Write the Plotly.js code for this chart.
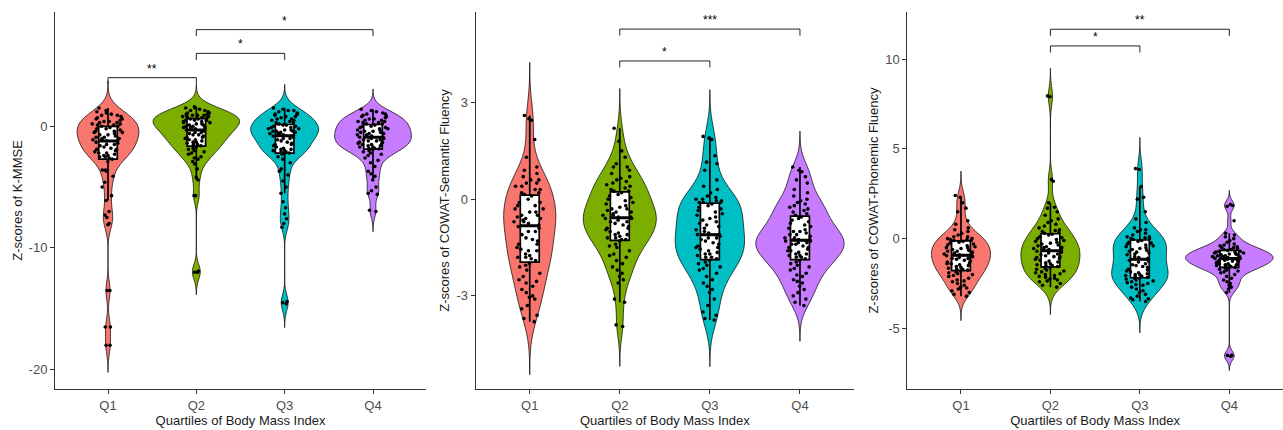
<!DOCTYPE html>
<html>
<head>
<meta charset="utf-8">
<script src="https://cdn.plot.ly/plotly-3.0.1.min.js"></script>
<style>html,body{margin:0;padding:0;background:#fff;}#chart{width:1283px;height:430px;}</style>
</head>
<body>
<div id="chart"></div>
<script>
// ---------- categories & colours ----------
const categories = ['Q1', 'Q2', 'Q3', 'Q4'];
const groupColors = ['#F8766D', '#7CAE00', '#00BFC4', '#C77CFF'];

// ---------- Panel 1: Z-scores of K-MMSE ----------
const kmmse_Q1 = [1.5,1.3,1.2,1.1,1.0,0.9,0.9,0.8,0.7,0.6,0.6,0.5,0.4,0.4,0.3,0.3,0.2,0.2,0.1,0.1,
  0.0,0.0,-0.1,-0.2,-0.2,-0.3,-0.4,-0.4,-0.5,-0.5,-0.6,-0.7,-0.7,-0.8,-0.9,-0.9,-1.0,-1.0,-1.1,-1.1,-1.2,-1.2,
  -1.3,-1.4,-1.5,-1.5,-1.6,-1.7,-1.8,-1.9,-1.9,-2.0,-2.1,-2.2,-2.2,-2.3,-2.4,-2.4,-2.5,-2.5,-2.6,-2.7,
  -2.9,-3.6,-3.6,-3.7,-4.1,-4.6,-5.0,-5.7,-6.1,-7.0,-7.3,-7.5,-8.0,-8.1,-13.5,-13.5,-16.5,-16.5,-18.0,-18.0];
const kmmse_Q2 = [1.6,1.5,1.5,1.4,1.3,1.3,1.2,1.1,1.1,1.0,1.0,0.9,0.9,0.9,0.8,0.8,0.8,0.7,0.7,0.7,
  0.6,0.6,0.5,0.5,0.5,0.4,0.4,0.3,0.3,0.2,0.2,0.1,0.1,0.0,0.0,-0.1,-0.1,-0.1,-0.2,-0.2,
  -0.3,-0.3,-0.4,-0.5,-0.5,-0.6,-0.7,-0.7,-0.8,-0.9,-0.9,-1.0,-1.1,-1.1,-1.2,-1.3,-1.3,-1.4,-1.5,-1.5,
  -1.6,-1.7,-1.8,-1.9,-2.0,-2.1,-2.2,-2.3,-2.5,-2.6,-2.7,-2.9,-3.1,-3.5,-4.2,-4.4,-5.7,-5.7,-12.0,-12.0,-11.9];
const kmmse_Q3 = [1.5,1.4,1.3,1.3,1.2,1.1,1.0,1.0,0.9,0.8,0.8,0.7,0.6,0.6,0.5,0.5,0.4,0.3,0.3,0.2,
  0.1,0.1,0.0,0.0,-0.1,-0.1,-0.2,-0.2,-0.3,-0.3,-0.4,-0.4,-0.4,-0.5,-0.5,-0.6,-0.6,-0.7,-0.7,-0.75,
  -0.8,-0.9,-1.0,-1.0,-1.1,-1.2,-1.3,-1.4,-1.5,-1.5,-1.6,-1.7,-1.8,-1.9,-1.9,-2.0,-2.0,-2.1,-2.1,-2.2,-2.2,-2.3,
  -2.5,-2.7,-3.0,-3.5,-3.7,-4.0,-4.5,-5.0,-5.5,-6.2,-6.7,-7.2,-7.6,-8.0,-8.3,-14.4,-14.5,-14.6];
const kmmse_Q4 = [1.4,1.3,1.2,1.1,1.0,1.0,0.9,0.8,0.8,0.7,0.6,0.6,0.5,0.5,0.4,0.4,0.3,0.3,0.2,0.2,
  0.1,0.0,0.0,-0.1,-0.1,-0.2,-0.2,-0.3,-0.3,-0.4,-0.4,-0.5,-0.5,-0.6,-0.6,-0.7,-0.7,-0.8,-0.8,-0.9,
  -0.9,-1.0,-1.0,-1.1,-1.1,-1.2,-1.2,-1.3,-1.3,-1.4,-1.4,-1.5,-1.5,-1.6,-1.6,-1.7,-1.7,-1.8,-1.8,-1.85,
  -1.9,-2.0,-2.1,-2.2,-2.3,-2.4,-2.6,-2.8,-3.0,-3.3,-3.7,-3.9,-4.1,-4.4,-5.0,-5.3,-5.5,-5.6,-6.9,-7.0];

// ---------- Panel 2: Z-scores of COWAT-Semantic Fluency ----------
const semantic_Q1 = [2.6,2.5,2.45,1.85,1.3,1.0,0.9,0.8,0.7,0.6,0.6,0.5,0.5,0.4,0.4,0.3,0.3,0.2,0.2,0.15,
  0.1,0.0,-0.1,-0.1,-0.2,-0.2,-0.3,-0.3,-0.4,-0.4,-0.5,-0.5,-0.55,-0.6,-0.6,-0.65,-0.7,-0.7,-0.75,-0.8,
  -0.85,-0.9,-1.0,-1.0,-1.1,-1.2,-1.25,-1.3,-1.4,-1.4,-1.5,-1.55,-1.6,-1.6,-1.7,-1.75,-1.8,-1.8,-1.85,-1.9,
  -2.0,-2.05,-2.1,-2.2,-2.3,-2.4,-2.5,-2.55,-2.6,-2.7,-2.8,-2.9,-3.0,-3.05,-3.1,-3.3,-3.4,-3.6,-3.7,-3.8];
const semantic_Q2 = [2.2,1.8,1.5,1.3,1.1,1.0,1.0,0.9,0.8,0.7,0.65,0.6,0.55,0.5,0.45,0.4,0.35,0.3,0.25,0.25,
  0.2,0.15,0.1,0.05,0.0,-0.05,-0.1,-0.15,-0.2,-0.25,-0.3,-0.3,-0.35,-0.4,-0.4,-0.45,-0.5,-0.5,-0.55,-0.55,
  -0.6,-0.6,-0.65,-0.7,-0.7,-0.75,-0.8,-0.85,-0.9,-0.9,-0.95,-1.0,-1.05,-1.1,-1.1,-1.15,-1.2,-1.2,-1.25,-1.25,
  -1.3,-1.4,-1.45,-1.5,-1.6,-1.7,-1.75,-1.8,-1.9,-2.0,-2.1,-2.2,-2.3,-2.4,-2.5,-2.6,-3.1,-3.2,-3.9,-3.95];
const semantic_Q3 = [1.95,1.9,1.85,1.35,1.15,1.1,0.9,0.6,0.4,0.3,0.2,0.1,0.05,0.0,0.0,-0.05,-0.05,-0.1,-0.1,-0.1,
  -0.15,-0.2,-0.25,-0.3,-0.35,-0.4,-0.45,-0.5,-0.55,-0.6,-0.65,-0.7,-0.75,-0.8,-0.85,-0.9,-0.95,-1.0,-1.05,-1.1,
  -1.1,-1.15,-1.2,-1.2,-1.25,-1.3,-1.35,-1.4,-1.45,-1.5,-1.5,-1.55,-1.6,-1.65,-1.7,-1.7,-1.75,-1.8,-1.8,-1.85,
  -1.9,-1.95,-2.0,-2.05,-2.1,-2.15,-2.2,-2.3,-2.4,-2.5,-2.6,-2.7,-2.8,-2.9,-3.1,-3.3,-3.5,-3.6,-3.7,-3.75];
const semantic_Q4 = [1.0,0.9,0.85,0.7,0.6,0.5,0.3,0.2,0.1,0.0,-0.05,-0.1,-0.15,-0.2,-0.25,-0.3,-0.35,-0.4,-0.45,-0.5,
  -0.55,-0.6,-0.65,-0.7,-0.75,-0.8,-0.85,-0.9,-0.95,-1.0,-1.0,-1.05,-1.1,-1.1,-1.15,-1.2,-1.2,-1.25,-1.25,-1.25,
  -1.3,-1.3,-1.35,-1.35,-1.4,-1.4,-1.45,-1.5,-1.5,-1.55,-1.6,-1.6,-1.65,-1.7,-1.7,-1.75,-1.75,-1.8,-1.8,-1.85,
  -1.9,-1.95,-2.0,-2.05,-2.1,-2.15,-2.2,-2.3,-2.35,-2.4,-2.5,-2.55,-2.6,-2.7,-2.8,-2.9,-3.0,-3.1,-3.2,-3.3];

// ---------- Panel 3: Z-scores of COWAT-Phonemic Fluency ----------
const phonemic_Q1 = [2.4,2.3,2.0,1.7,1.5,1.0,0.8,0.6,0.5,0.4,0.3,0.2,0.1,0.1,0.0,0.0,-0.05,-0.05,-0.1,-0.1,
  -0.15,-0.2,-0.25,-0.3,-0.35,-0.4,-0.45,-0.5,-0.5,-0.55,-0.6,-0.65,-0.7,-0.7,-0.75,-0.8,-0.85,-0.85,-0.9,-0.9,
  -0.95,-1.0,-1.05,-1.1,-1.1,-1.15,-1.2,-1.25,-1.3,-1.35,-1.4,-1.4,-1.45,-1.5,-1.55,-1.6,-1.65,-1.7,-1.7,-1.75,
  -1.8,-1.85,-1.9,-1.95,-2.0,-2.05,-2.1,-2.2,-2.3,-2.35,-2.4,-2.5,-2.6,-2.7,-2.75,-2.8,-2.9,-3.0,-3.1,-3.2];
const phonemic_Q2 = [7.95,7.9,3.3,3.2,2.0,1.75,1.7,1.5,1.3,1.1,1.0,0.9,0.8,0.7,0.6,0.5,0.45,0.4,0.35,0.3,
  0.25,0.2,0.1,0.05,0.0,-0.05,-0.1,-0.15,-0.2,-0.25,-0.3,-0.35,-0.4,-0.45,-0.5,-0.5,-0.55,-0.6,-0.6,-0.65,
  -0.7,-0.75,-0.8,-0.85,-0.9,-0.95,-1.0,-1.0,-1.05,-1.1,-1.15,-1.2,-1.25,-1.3,-1.35,-1.4,-1.45,-1.5,-1.5,-1.55,
  -1.6,-1.65,-1.7,-1.75,-1.8,-1.85,-1.9,-1.95,-2.0,-2.05,-2.1,-2.15,-2.2,-2.25,-2.3,-2.35,-2.4,-2.5,-2.6,-2.7];
const phonemic_Q3 = [3.9,3.85,2.9,2.3,2.2,1.5,1.1,0.9,0.6,0.5,0.5,0.4,0.3,0.2,0.1,0.1,0.05,0.0,0.0,-0.05,
  -0.1,-0.15,-0.2,-0.25,-0.3,-0.35,-0.4,-0.45,-0.5,-0.55,-0.6,-0.65,-0.7,-0.75,-0.8,-0.85,-0.9,-1.0,-1.05,-1.1,
  -1.2,-1.25,-1.3,-1.4,-1.45,-1.5,-1.55,-1.6,-1.7,-1.75,-1.8,-1.85,-1.9,-1.95,-2.0,-2.0,-2.05,-2.1,-2.1,-2.15,
  -2.2,-2.2,-2.25,-2.3,-2.35,-2.4,-2.45,-2.5,-2.55,-2.6,-2.7,-2.8,-2.9,-3.0,-3.1,-3.2,-3.3,-3.35,-3.4,-3.5];
const phonemic_Q4 = [1.9,1.85,1.8,1.0,0.3,0.2,0.1,0.0,-0.1,-0.2,-0.3,-0.35,-0.4,-0.45,-0.5,-0.5,-0.55,-0.6,-0.6,-0.65,
  -0.7,-0.7,-0.75,-0.75,-0.8,-0.8,-0.85,-0.85,-0.9,-0.9,-0.95,-0.95,-1.0,-1.0,-1.0,-1.05,-1.05,-1.1,-1.1,-1.1,
  -1.15,-1.15,-1.2,-1.2,-1.25,-1.25,-1.3,-1.3,-1.35,-1.4,-1.4,-1.45,-1.45,-1.5,-1.5,-1.55,-1.55,-1.6,-1.6,-1.65,
  -1.7,-1.75,-1.8,-1.85,-1.9,-2.0,-2.1,-2.2,-2.3,-2.4,-2.5,-2.6,-2.7,-2.8,-3.0,-6.5,-6.5,-6.55];

// ---------- significance brackets ----------
const sig1_from = ['Q1', 'Q2', 'Q2'];
const sig1_to = ['Q2', 'Q3', 'Q4'];
const sig1_y = [4.0, 6.0, 7.95];
const sig1_label = ['**', '*', '*'];

const sig2_from = ['Q2', 'Q2'];
const sig2_to = ['Q3', 'Q4'];
const sig2_y = [4.29, 5.28];
const sig2_label = ['*', '***'];

const sig3_from = ['Q2', 'Q2'];
const sig3_to = ['Q3', 'Q4'];
const sig3_y = [10.73, 11.66];
const sig3_label = ['*', '**'];

// ---------- axis titles / ranges ----------
const xTitle = 'Quartiles of Body Mass Index';
const yTitles = ['Z-scores of K-MMSE', 'Z-scores of COWAT-Semantic Fluency', 'Z-scores of COWAT-Phonemic Fluency'];
const yRanges = [[-21.6, 9.4], [-5.89, 5.81], [-8.37, 12.62]];
const yTicks = [[-20, -10, 0], [-3, 0, 3], [-5, 0, 5, 10]];

// ---------- style: maximum violin width of each group (category units) ----------
const violinWidths = [[0.70, 0.98, 0.77, 0.87], [0.58, 0.81, 0.77, 0.98], [0.66, 0.66, 0.63, 0.98]];

const panels = [
  {groups: [kmmse_Q1, kmmse_Q2, kmmse_Q3, kmmse_Q4], sig: [sig1_from, sig1_to, sig1_y, sig1_label]},
  {groups: [semantic_Q1, semantic_Q2, semantic_Q3, semantic_Q4], sig: [sig2_from, sig2_to, sig2_y, sig2_label]},
  {groups: [phonemic_Q1, phonemic_Q2, phonemic_Q3, phonemic_Q4], sig: [sig3_from, sig3_to, sig3_y, sig3_label]}
];

// ggplot-like bandwidth (bw.nrd0) and linear-interpolated quantiles
function quantile(sorted, p) {
  const h = (sorted.length - 1) * p, lo = Math.floor(h), hi = Math.ceil(h);
  return sorted[lo] + (sorted[hi] - sorted[lo]) * (h - lo);
}
function nrd0(a) {
  const s = [...a].sort((x, y) => x - y), n = s.length;
  const mean = s.reduce((t, v) => t + v, 0) / n;
  const sd = Math.sqrt(s.reduce((t, v) => t + (v - mean) * (v - mean), 0) / (n - 1));
  const iqr = quantile(s, 0.75) - quantile(s, 0.25);
  const lo = Math.min(sd, iqr / 1.34);
  return 0.9 * lo * Math.pow(n, -0.2);
}

const traces = [];
const medianTraces = [];
const shapes = [];
const annotations = [];
const fam = 'Liberation Sans, Arimo, Arial, sans-serif';
const axisFont = {family: fam, size: 13, color: '#4D4D4D'};
const titleFont = {family: fam, size: 13, color: '#1a1a1a'};

const xDomains = [[55 / 1283, 426 / 1283], [475.7 / 1283, 854 / 1283], [907.3 / 1283, 1]];
const yDomain = [41 / 430, 418 / 430];
const plotHeightPx = 377;
const boxWidthAbs = 0.21;      // inner box width (category units)
const jitterAbs = 0.19;        // half-spread of jittered points (category units)

const layout = {
  width: 1283, height: 430,
  margin: {l: 0, r: 0, t: 0, b: 0},
  paper_bgcolor: '#fff', plot_bgcolor: '#fff',
  showlegend: false,
  violinmode: 'overlay',
  boxmode: 'overlay',
  font: axisFont,
  shapes: shapes,
  annotations: annotations
};

panels.forEach((panel, k) => {
  const ax = k === 0 ? '' : String(k + 1);
  panel.groups.forEach((vals, g) => {
    const bw = nrd0(vals);
    const w = violinWidths[k][g];
    const mn = Math.min(...vals), mx = Math.max(...vals);
    traces.push({
      type: 'violin',
      xaxis: 'x' + ax, yaxis: 'y' + ax,
      x: vals.map(() => categories[g]),
      y: vals,
      name: categories[g],
      width: w,
      scalegroup: 'p' + k + categories[g],
      scalemode: 'width',
      bandwidth: bw,
      spanmode: 'manual',
      span: [mn - 3 * bw, mx + 3 * bw],
      fillcolor: groupColors[g],
      line: {color: '#000', width: 0.7},
      box: {visible: true, width: boxWidthAbs / w, fillcolor: '#fff', line: {color: '#000', width: 1.7}},
      meanline: {visible: false},
      points: 'all',
      pointpos: 0,
      jitter: Math.min(1, 2 * jitterAbs / w),
      marker: {color: '#000', size: 3.6, line: {width: 0}},
      hoverinfo: 'skip'
    });
    // thicker median bar (as ggplot's fatten), drawn as a degenerate box at the median
    const med = quantile([...vals].sort((a, b) => a - b), 0.5);
    medianTraces.push({
      type: 'box',
      xaxis: 'x' + ax, yaxis: 'y' + ax,
      x: [categories[g]],
      q1: [med], median: [med], q3: [med], lowerfence: [med], upperfence: [med],
      width: boxWidthAbs,
      whiskerwidth: 0,
      fillcolor: 'rgba(0,0,0,0)',
      line: {color: '#000', width: 3},
      boxpoints: false,
      hoverinfo: 'skip'
    });
  });

  const yr = yRanges[k];
  const tip = 6.5 * (yr[1] - yr[0]) / plotHeightPx;
  const [sFrom, sTo, sY, sLab] = panel.sig;
  sFrom.forEach((f, i) => {
    const a = categories.indexOf(f), b = categories.indexOf(sTo[i]);
    const y = sY[i];
    const common = {type: 'line', xref: 'x' + ax, yref: 'y' + ax, line: {color: '#222', width: 1}};
    shapes.push(Object.assign({x0: a, x1: a, y0: y - tip, y1: y}, common));
    shapes.push(Object.assign({x0: a, x1: b, y0: y, y1: y}, common));
    shapes.push(Object.assign({x0: b, x1: b, y0: y - tip, y1: y}, common));
    annotations.push({
      xref: 'x' + ax, yref: 'y' + ax, x: (a + b) / 2, y: y,
      text: sLab[i], showarrow: false, yanchor: 'bottom', yshift: 0,
      font: {family: fam, size: 12, color: '#000'}
    });
  });

  layout['xaxis' + ax] = {
    domain: xDomains[k], anchor: 'y' + ax,
    type: 'category', categoryorder: 'array', categoryarray: categories,
    range: [-0.6, 3.6],
    showline: true, linecolor: '#333', linewidth: 1,
    ticks: 'outside', ticklen: 4, tickcolor: '#333', tickwidth: 1,
    showgrid: false, zeroline: false,
    tickfont: axisFont,
    title: {text: xTitle, font: titleFont, standoff: 4},
    fixedrange: true
  };
  layout['yaxis' + ax] = {
    domain: yDomain, anchor: 'x' + ax,
    range: yr,
    tickmode: 'array', tickvals: yTicks[k], ticktext: yTicks[k].map(String),
    showline: true, linecolor: '#333', linewidth: 1,
    ticks: 'outside', ticklen: 4, tickcolor: '#333', tickwidth: 1,
    showgrid: false, zeroline: false,
    tickfont: axisFont,
    title: {text: yTitles[k], font: titleFont, standoff: 3},
    fixedrange: true
  };
});

Plotly.newPlot('chart', traces.concat(medianTraces), layout, {staticPlot: true, displayModeBar: false});
</script>
</body>
</html>
